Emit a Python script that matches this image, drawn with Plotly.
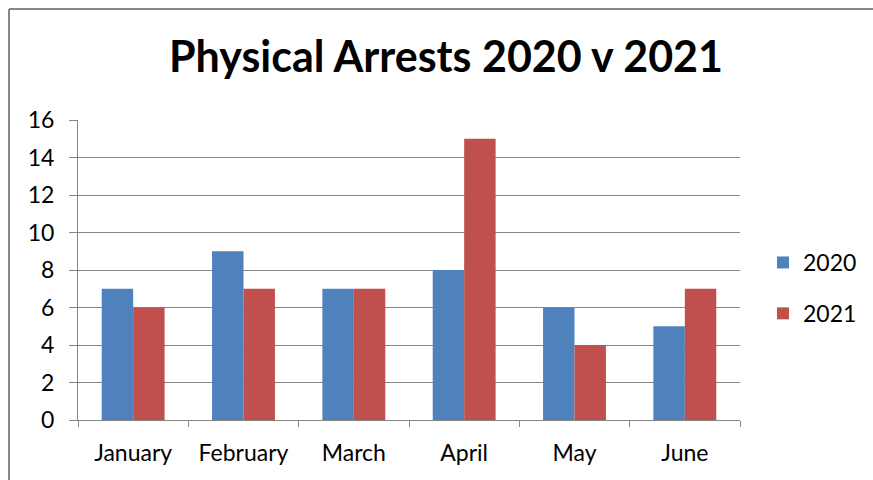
import plotly.graph_objects as go

months = ["January", "February", "March", "April", "May", "June"]
arrests_2020 = [7, 9, 7, 8, 6, 5]
arrests_2021 = [6, 7, 7, 15, 4, 7]
y_ticks = [0, 2, 4, 6, 8, 10, 12, 14, 16]

FONT = "Lato"
GRID = "#868686"

fig = go.Figure()
fig.add_trace(go.Bar(x=months, y=arrests_2020, name="2020", marker_color="#4F81BD",
                     marker_line_width=0, legendgroup="a"))
fig.add_trace(go.Bar(x=months, y=arrests_2021, name="2021", marker_color="#C0504D",
                     marker_line_width=0, legendgroup="b"))

fig.update_layout(
    width=873, height=480,
    margin=dict(l=78, r=133, t=120, b=60),
    paper_bgcolor="white", plot_bgcolor="white",
    font=dict(family=FONT, size=23, color="black"),
    title=dict(text="<b>Physical Arrests 2020 v 2021</b>", x=446/873, xanchor="center",
               y=1 - 57/480, yanchor="middle", font=dict(size=43, family=FONT)),
    bargap=0.43, bargroupgap=0,
    legend=dict(xref="container", yref="container", x=763/873, xanchor="left",
                y=1 - 288/480, yanchor="middle",
                font=dict(size=23), tracegroupgap=18, bgcolor="rgba(0,0,0,0)"),
    showlegend=True,
)

fig.update_xaxes(tickson="boundaries", ticks="outside", ticklen=6, tickcolor=GRID,
                 showline=True, linecolor=GRID, linewidth=1, showgrid=False,
                 tickfont=dict(size=23), ticklabelstandoff=12)
fig.update_yaxes(range=[0, 16], tickvals=y_ticks, ticks="outside", ticklen=8,
                 tickcolor=GRID, showline=True, linecolor=GRID, linewidth=1,
                 showgrid=True, gridcolor=GRID, gridwidth=1, zeroline=False,
                 tickfont=dict(size=23), ticklabelstandoff=10)

# chart frame (left and top edges visible in the crop)
fig.add_shape(type="line", xref="paper", yref="paper",
              x0=(9 - 78) / 662, x1=(9 - 78) / 662, y0=-0.3, y1=(420 - 9) / 300,
              line=dict(color="#868686", width=2))
fig.add_shape(type="line", xref="paper", yref="paper",
              x0=(9 - 78) / 662, x1=1.3, y0=(420 - 9) / 300, y1=(420 - 9) / 300,
              line=dict(color="#868686", width=2))

fig.write_html("out.html", config={"displayModeBar": False},
               post_script="document.body.style.margin='0px';")
